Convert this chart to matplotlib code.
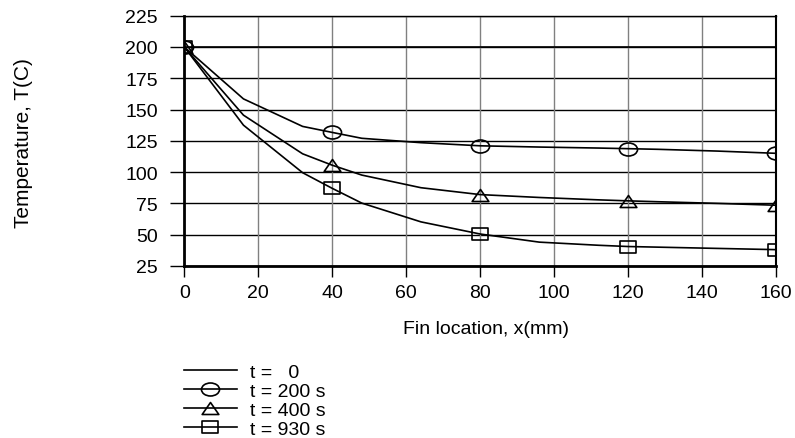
import numpy as np
import matplotlib
matplotlib.use('Agg')
import matplotlib.pyplot as plt
from matplotlib.path import Path

#------------------------------------------------------------------------------
# DATA
#------------------------------------------------------------------------------
x_mm = [0, 16, 32, 40, 48, 64, 80, 96, 112, 120, 128, 144, 160]
marker_x = [0, 40, 80, 120, 160]

t_0 = [200, 200, 200, 200, 200, 200, 200, 200, 200, 200, 200, 200, 200]
t_200 = [200, 158.5, 136.5, 131.7, 127, 123.5, 121, 120, 119.2, 118.7, 118.2, 116.8, 115]
t_400 = [200, 145.5, 114.6, 105.5, 97.6, 87.5, 82, 79.7, 77.8, 77, 76.3, 75, 73.5]
t_930 = [200, 137.5, 99.5, 87, 75.2, 60.2, 50.5, 44, 41.5, 40.5, 40, 39, 38]

labels = ['t =   0', 't = 200 s', 't = 400 s', 't = 930 s']
x_ticks = [0, 20, 40, 60, 80, 100, 120, 140, 160]
y_ticks = [25, 50, 75, 100, 125, 150, 175, 200, 225]

#------------------------------------------------------------------------------
# MARKERS (a bit flattened, like the original)
#------------------------------------------------------------------------------
flat = 0.72
circ = Path.unit_circle()
ellipse = Path(circ.vertices * [1, flat], circ.codes)
tri = Path([[-1, -flat], [0, flat], [1, -flat], [-1, -flat]],
           [Path.MOVETO, Path.LINETO, Path.LINETO, Path.CLOSEPOLY])
rect = Path([[-1, -flat], [1, -flat], [1, flat], [-1, flat], [-1, -flat]],
            [Path.MOVETO, Path.LINETO, Path.LINETO, Path.LINETO, Path.CLOSEPOLY])

#------------------------------------------------------------------------------
# PLOT
#------------------------------------------------------------------------------
plt.rcParams['font.family'] = ['Liberation Sans', 'DejaVu Sans']
plt.rcParams['font.size'] = 14

fig = plt.figure(figsize=(7.95, 4.39), dpi=100)
ax = fig.add_axes([0.2318, 0.392, 0.7443, 0.570])

# grid: black horizontal, grey vertical
for yv in y_ticks:
    ax.axhline(yv, color='black', lw=1.0, zorder=1)
for xv in x_ticks:
    ax.axvline(xv, color='#808080', lw=1.0, zorder=1)

mark_idx = [x_mm.index(m) for m in marker_x]
series = [(t_0, None), (t_200, ellipse), (t_400, tri), (t_930, rect)]
sizes = [0, 13, 12, 12]
for (vals, mk), lab, ms in zip(series, labels, sizes):
    ax.plot(x_mm, vals, color='black', lw=1.2, marker=mk, markevery=mark_idx,
            markersize=ms, markerfacecolor='none', markeredgecolor='black',
            markeredgewidth=1.2, label=lab, zorder=3)

ax.set_xlim(0, 160)
ax.set_ylim(25, 225)
ax.set_xticks(x_ticks)
ax.set_yticks(y_ticks)
ax.tick_params(axis='y', direction='out', length=10, width=1, pad=9, color='black')
ax.tick_params(axis='x', direction='out', length=8, width=1, pad=5, color='black')

ax.spines['left'].set_linewidth(2)
ax.spines['bottom'].set_linewidth(2)
ax.spines['top'].set_linewidth(1)
ax.spines['right'].set_linewidth(1.5)

ax.set_xlabel('Fin location, x(mm)')
ax.xaxis.set_label_coords(0.51, -0.215)
fig.text(0.029, 0.674, 'Temperature, T(C)', rotation=90, ha='center', va='center',
         fontsize=15)

fig.legend(loc='upper left', bbox_to_anchor=(0.231, 0.171), frameon=False,
           handlelength=2.75, handletextpad=0.65, labelspacing=0.08,
           borderpad=0, borderaxespad=0, fontsize=14)

fig.savefig('out.png', dpi=100)
